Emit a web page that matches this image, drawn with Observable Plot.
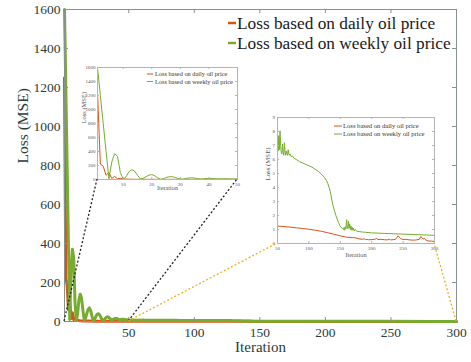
<!DOCTYPE html>
<html><head><meta charset="utf-8">
<script src="https://cdn.jsdelivr.net/npm/d3@7"></script>
<script src="https://cdn.jsdelivr.net/npm/@observablehq/plot@0.6"></script>
<style>
body{margin:0;background:#fff;}
#wrap{position:relative;width:471px;height:362px;overflow:hidden;}
#wrap svg{position:absolute;overflow:visible;max-width:none;font-family:"Liberation Serif","Times New Roman",serif !important;}
#wrap svg text, #wrap svg g{font-family:"Liberation Serif","Times New Roman",serif !important;font-variant:normal !important;}
</style></head><body><div id="wrap"></div>
<script>
// ---- data ----
const seriesNames = ["Loss based on daily oil price", "Loss based on weekly oil price"];
const seriesColors = ["#D95319", "#77AC30"];

const dailyIter = [1,2,3,4,5,6,7,8,9,10,11,12,13,15,20,25,30,40,50,60,70,80,90,100,110,120,130,140,150,160,170,175,180,185,188,190,195,200,205,208,210,215,220,225,228,230,235,238,240,242,244,246,250,255,260,265,270,276,278,280,282,284,286,290,295,300];
const dailyLoss = [1250,220,190,60,100,15,45,10,18,8,6,4.5,3.5,2.8,2.2,1.9,1.7,1.45,1.25,1.21,1.17,1.12,1.07,1.02,0.95,0.87,0.77,0.66,0.55,0.45,0.42,0.4,0.33,0.3,0.33,0.3,0.27,0.28,0.3,0.36,0.28,0.3,0.27,0.26,0.31,0.26,0.28,0.3,0.42,0.55,0.45,0.35,0.28,0.3,0.26,0.24,0.25,0.3,0.5,0.42,0.32,0.36,0.25,0.18,0.17,0.15];

const weeklyIter = [1,2,3,4,5,6,7,8,9,10,11,12,13,14,15,16,17,18,19,20,21,22,23,24,25,26,27,28,29,30,31,32,33,34,35,36,37,38,39,40,41,42,43,44,45,46,47,48,49,50,51,52,53,54,55,56,57,58,59,60,61,62,63,64,65,66,67,68,69,70,72,74,76,78,80,85,90,95,100,105,110,115,120,125,128,130,133,135,137,139,141,143,145,147,149,151,153,155,156,157,158,159,160,161,162,163,164,165,166,167,168,169,170,171,172,174,176,180,185,190,200,220,250,280,300];
const weeklyLoss = [1600,1200,800,400,10,250,370,330,100,5,40,110,140,120,60,10,15,40,62,70,55,25,4,10,28,38,40,32,17,6,6,15,22,24,20,13,8,10,14,16,15,12,10,10,11,11,10,9,8.5,7.6,6.6,7.7,6.7,8.05,7.0,6.5,6.4,7.1,6.5,6.3,7.2,6.6,6.3,6.6,6.4,6.3,6.7,6.4,6.3,6.4,6.2,6.25,6.1,6.05,6.0,5.85,5.75,5.65,5.55,5.45,5.3,5.15,4.95,4.7,4.5,4.3,3.9,3.5,3.0,2.6,2.3,2.0,1.75,1.5,1.3,1.15,1.1,1.0,1.15,0.95,1.2,1.05,1.7,1.2,1.05,1.6,1.1,1.4,1.0,1.25,0.95,1.15,0.95,1.1,0.9,1.0,0.88,0.85,0.82,0.8,0.76,0.72,0.67,0.62,0.58];

const mainXTicks = [50,100,150,200,250,300];
const mainYTicks = [0,200,400,600,800,1000,1200,1400,1600];
const inset1XTicks = [10,20,30,40,50];
const inset2XTicks = [50,100,150,200,250,300];
const inset2YTicks = [0,1,2,3,4,5,6,7,8,9];
const xTitle = "Iteration";
const yTitle = "Loss (MSE)";

// ---- build ----
const rows = [
  ...dailyIter.map((it, i) => ({series: seriesNames[0], iter: it, loss: dailyLoss[i]})),
  ...weeklyIter.map((it, i) => ({series: seriesNames[1], iter: it, loss: weeklyLoss[i]}))
];
const fontFamily = '"Liberation Serif","Times New Roman",serif';
const textMain = "#2c3d36";
const axisMain = "#87928d";
const textInset = "#555";
const axisInset = "#b4b4b4";
const wrap = document.getElementById("wrap");
const fmt = d => String(d);

function chart(cfg) {
  const pw = cfg.width - cfg.ml - cfg.mr, ph = cfg.height - cfg.mt - cfg.mb;
  const t = cfg.tick;
  const svg = Plot.plot({
    width: cfg.width, height: cfg.height,
    marginTop: cfg.mt, marginRight: cfg.mr, marginBottom: cfg.mb, marginLeft: cfg.ml,
    style: {fontSize: cfg.fs + "px", color: cfg.text, background: "transparent", overflow: "visible"},
    x: {domain: cfg.xd}, y: {domain: cfg.yd},
    color: {domain: seriesNames, range: seriesColors},
    marks: [
      cfg.fill ? Plot.frame({fill: "white", stroke: "none"}) : null,
      Plot.line(rows.filter(d => d.iter >= cfg.xd[0] && d.iter <= cfg.xd[1]),
        {x: "iter", y: "loss", stroke: "series", z: "series", strokeWidth: cfg.sw, strokeLinejoin: "round"}),
      Plot.frame({stroke: cfg.axis}),
      Plot.tickX(cfg.xt, {x: d => d, insetTop: ph - t, stroke: cfg.axis}),
      Plot.tickX(cfg.xt, {x: d => d, insetBottom: ph - t, stroke: cfg.axis}),
      Plot.tickY(cfg.yt, {y: d => d, insetRight: pw - t, stroke: cfg.axis}),
      Plot.tickY(cfg.yt, {y: d => d, insetLeft: pw - t, stroke: cfg.axis}),
      Plot.axisX(cfg.xt, {anchor: "bottom", tickSize: 0, tickPadding: cfg.xpad, label: null, fill: cfg.text, tickFormat: fmt, fontSize: cfg.fs, fontFamily}),
      Plot.axisY(cfg.yt, {anchor: "left", tickSize: 0, tickPadding: cfg.ypad, label: null, fill: cfg.text, tickFormat: fmt, fontSize: cfg.fs, fontFamily}),
      Plot.text([xTitle], {text: d => d, frameAnchor: "bottom", dy: cfg.xtdy, fontSize: cfg.tfs, fill: cfg.text, fontFamily}),
      Plot.text([yTitle], {text: d => d, frameAnchor: "left", dx: cfg.ytdx, dy: cfg.ytdy || 0, rotate: -90, fontSize: cfg.tfs2 || cfg.tfs, fill: cfg.text, fontFamily})
    ]
  });
  svg.style.left = cfg.left + "px";
  svg.style.top = cfg.top + "px";
  wrap.appendChild(svg);
  // legend
  const g = d3.select(svg).append("g").attr("text-anchor", "start");
  seriesNames.forEach((name, i) => {
    const y = cfg.leg.y[i];
    g.append("line").attr("x1", cfg.leg.x0).attr("x2", cfg.leg.x1).attr("y1", y).attr("y2", y)
      .attr("stroke", seriesColors[i]).attr("stroke-width", cfg.leg.sw);
    g.append("text").attr("x", cfg.leg.xt).attr("y", y).attr("dy", "0.34em").attr("text-anchor", "start")
      .attr("font-family", fontFamily).attr("font-size", cfg.leg.fs).attr("fill", cfg.leg.color).text(name);
  });
  return svg;
}

const main = chart({
  width: 471, height: 362, mt: 9, mr: 15, mb: 41, ml: 64, left: 0, top: 0,
  xd: [1, 300], yd: [0, 1600], xt: mainXTicks, yt: mainYTicks, tick: 4,
  fs: 13.5, text: textMain, axis: axisMain, sw: 3, xpad: 6, ypad: 4,
  xtdy: 30.5, ytdx: -41, ytdy: -2, tfs: 15, tfs2: 15.5,
  leg: {x0: 228, x1: 236, xt: 237, y: [23, 43], fs: 17.3, sw: 2.5, color: "#1a1a1a"}
});

const in1 = chart({
  width: 166, height: 129, mt: 3, mr: 6, mb: 14, ml: 20, left: 77, top: 64, fill: true,
  xd: [1, 50], yd: [0, 1600], xt: inset1XTicks, yt: mainYTicks, tick: 2,
  fs: 5, text: textInset, axis: axisInset, sw: 1, xpad: 2.5, ypad: 2,
  xtdy: 10.5, ytdx: -14, tfs: 6.2, tfs2: 6.5,
  leg: {x0: 70, x1: 76, xt: 78, y: [10, 17.5], fs: 6.3, sw: 1, color: "#333"}
});

const in2 = chart({
  width: 183, height: 146, mt: 3, mr: 6, mb: 17, ml: 20, left: 257, top: 114, fill: true,
  xd: [50, 300], yd: [0, 9], xt: inset2XTicks, yt: inset2YTicks, tick: 2,
  fs: 5, text: textInset, axis: axisInset, sw: 1, xpad: 2.5, ypad: 2.5,
  xtdy: 13, ytdx: -10, tfs: 6.2, tfs2: 6.8,
  leg: {x0: 77, x1: 85, xt: 86, y: [12, 20], fs: 6.6, sw: 1, color: "#333"}
});

// ---- connector lines ----
function lin(svg, k, off) {
  const s = svg.scale(k);
  const f = d3.scaleLinear(s.domain, s.range);
  return v => f(v) + off;
}
const mx = lin(main, "x", 0), my = lin(main, "y", 0);
const a1x = lin(in1, "x", 77), a1y = lin(in1, "y", 64);
const a2x = lin(in2, "x", 257), a2y = lin(in2, "y", 114);
const links = [
  {from: [mx(1), my(0)], to: [a1x(1), a1y(0)], color: "#222"},
  {from: [mx(50), my(0)], to: [a1x(50), a1y(0)], color: "#222"},
  {from: [mx(50), my(0)], to: [a2x(50), a2y(0)], color: "#EDB120"},
  {from: [mx(300), my(0)], to: [a2x(300), a2y(0)], color: "#EDB120"}
];
const over = d3.select(wrap).append("svg").attr("width", 471).attr("height", 362)
  .style("left", "0px").style("top", "0px").style("pointer-events", "none");
links.forEach(l => {
  over.append("line").attr("x1", l.from[0]).attr("y1", l.from[1]).attr("x2", l.to[0]).attr("y2", l.to[1])
    .attr("stroke", l.color).attr("stroke-width", 1.3).attr("stroke-dasharray", "2,2");
});
</script></body></html>
